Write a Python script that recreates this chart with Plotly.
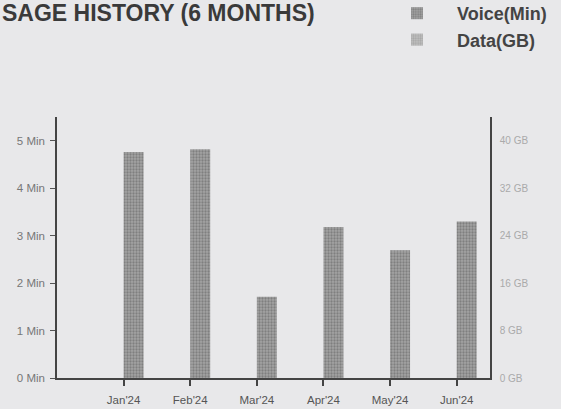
import plotly.graph_objects as go

months = ["Jan'24", "Feb'24", "Mar'24", "Apr'24", "May'24", "Jun'24"]
voice_min = [4.76, 4.82, 1.71, 3.18, 2.69, 3.30]
data_gb = [0, 0, 0, 0, 0, 0]
min_ticks = [0, 1, 2, 3, 4, 5]
min_labels = ["0 Min", "1 Min", "2 Min", "3 Min", "4 Min", "5 Min"]
gb_ticks = [0, 8, 16, 24, 32, 40]
gb_labels = ["0 GB", "8 GB", "16 GB", "24 GB", "32 GB", "40 GB"]

FONT = "Liberation Sans, Arial, sans-serif"
BG = "#e8e8ea"
W, H = 561, 409
L, R, T, B = 57, 71, 117, 31
PW, PH = W - L - R, H - T - B

def px_x(p):
    return (p - L) / PW

def px_y(p):
    return (H - B - p) / PH

fig = go.Figure()
fig.add_trace(go.Bar(
    x=list(range(len(months))), y=voice_min, name="\u00a0\u00a0\u00a0\u00a0Voice(Min)",
    width=0.3, offset=0, yaxis="y", legendgroup="v",
    marker=dict(color="#8a8a8a", line=dict(width=0),
                pattern=dict(shape=".", fgcolor="#5a5a5a", bgcolor="#a4a4a4", size=3, solidity=0.45)),
))
fig.add_trace(go.Bar(
    x=list(range(len(months))), y=data_gb, name="\u00a0\u00a0\u00a0\u00a0Data(GB)",
    width=0.3, offset=-0.3, yaxis="y2", legendgroup="d",
    marker=dict(color="#a8a8a8", line=dict(width=0),
                pattern=dict(shape=".", fgcolor="#8a8a8a", bgcolor="#c0c0c0", size=3, solidity=0.45)),
))

fig.update_layout(
    width=W, height=H,
    paper_bgcolor=BG, plot_bgcolor=BG,
    margin=dict(l=L, r=R, t=T, b=B, autoexpand=False),
    font=dict(family=FONT, color="#555"),
    showlegend=True,
    legend=dict(
        x=397 / W, xref="container", y=px_y(-5), yref="paper", xanchor="left", yanchor="top",
        font=dict(size=18, color="#444", family=FONT, weight="bold"),
        bgcolor="rgba(0,0,0,0)", traceorder="grouped", tracegroupgap=0,
        itemclick=False,
    ),
    xaxis=dict(
        range=[-1, 5.5], tickvals=list(range(len(months))), ticktext=months,
        showline=True, linecolor="#444", linewidth=1.5,
        ticks="outside", ticklen=6, tickcolor="#444", tickwidth=1.5,
        tickfont=dict(size=11.5, color="#555"), showgrid=False, zeroline=False,
        ticklabelstandoff=4, fixedrange=True,
    ),
    yaxis=dict(
        range=[0, 5.5], tickvals=min_ticks, ticktext=min_labels,
        showline=True, linecolor="#444", linewidth=1.5,
        ticks="outside", ticklen=5, tickcolor="#555", tickwidth=1.2,
        tickfont=dict(size=11.5, color="#777"), showgrid=False, zeroline=False,
        ticklabelstandoff=3,
    ),
    yaxis2=dict(
        range=[0, 44], tickvals=gb_ticks, ticktext=gb_labels,
        overlaying="y", side="right",
        showline=True, linecolor="#444", linewidth=1.5,
        ticks="", tickfont=dict(size=10, color="#aaa"), showgrid=False, zeroline=False,
        ticklabelstandoff=6,
    ),
    annotations=[dict(
        text="<b>SAGE HISTORY (6 MONTHS)</b>", xref="paper", yref="paper",
        x=px_x(0), y=px_y(-2), xanchor="left", yanchor="top",
        showarrow=False, font=dict(size=23, color="#3a3a3a", family=FONT),
    )],
)

fig.write_html("out.html", config={"displayModeBar": False},
               post_script=["document.body.style.margin='0';"])
